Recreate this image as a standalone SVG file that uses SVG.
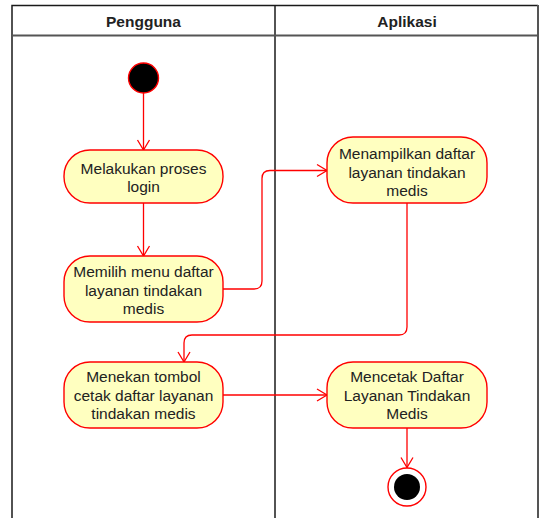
<svg xmlns="http://www.w3.org/2000/svg" width="542" height="518" viewBox="0 0 542 518">
  <style>
    .lane { fill: none; stroke: #1a1a1a; stroke-width: 1.5; }
    .sep { fill: none; stroke: #555; stroke-width: 2; }
    .head { font-family: "Liberation Sans", Arial, sans-serif; font-size: 15.5px; font-weight: bold; fill: #222; text-anchor: middle; }
    .act rect { fill: #ffffc0; stroke: #ff0000; stroke-width: 1.4; }
    .act text { font-family: "Liberation Sans", Arial, sans-serif; font-size: 15.5px; fill: #222; text-anchor: middle; }
    .edge { fill: none; stroke: #ff0000; stroke-width: 1.3; marker-end: url(#open); }
  </style>
  <defs>
    <marker id="open" markerUnits="userSpaceOnUse" markerWidth="16" markerHeight="16" viewBox="-12 -8 14 16" refX="0" refY="0" orient="auto" overflow="visible">
      <path d="M-10,-6 L0,0 L-10,6" fill="none" stroke="#ff0000" stroke-width="1.3"/>
    </marker>
  </defs>

  <rect x="0" y="0" width="542" height="518" fill="#ffffff"/>

  <!-- swimlanes -->
  <g id="lanes">
    <path class="lane" d="M12,518 V5.5 H538"/>
    <path class="sep" d="M538,5 V518"/>
    <path class="lane" d="M275,5.5 V518"/>
    <path class="sep" d="M12,35.5 H538"/>
    <text class="head" x="143.5" y="27">Pengguna</text>
    <text class="head" x="407" y="27">Aplikasi</text>
  </g>

  <!-- connectors -->
  <g id="connectors">
    <path class="edge" d="M143.5,93 V150"/>
    <path class="edge" d="M143.5,203 V256"/>
    <path class="edge" d="M223,289 H254 Q262,289 262,281 V178.5 Q262,170.5 270,170.5 H327"/>
    <path class="edge" d="M407,203 V327 Q407,335 399,335 H192 Q184,335 184,343 V362"/>
    <path class="edge" d="M223,395 H327"/>
    <path class="edge" d="M407,428 V467.5"/>
  </g>

  <g id="start">
    <circle cx="143.5" cy="78" r="15" fill="#000" stroke="#ff0000" stroke-width="1.4"/>
  </g>

  <g id="login" class="act">
    <rect x="64" y="150" width="159" height="53" rx="26" ry="26"/>
    <text x="143.5" y="173.5">Melakukan proses</text>
    <text x="143.5" y="192">login</text>
  </g>

  <g id="pilih-menu" class="act">
    <rect x="64" y="256" width="159" height="66" rx="26" ry="26"/>
    <text x="143.5" y="277">Memilih menu daftar</text>
    <text x="143.5" y="295.5">layanan tindakan</text>
    <text x="143.5" y="314">medis</text>
  </g>

  <g id="tombol-cetak" class="act">
    <rect x="64" y="362" width="159" height="66" rx="26" ry="26"/>
    <text x="143.5" y="382">Menekan tombol</text>
    <text x="143.5" y="400.5">cetak daftar layanan</text>
    <text x="143.5" y="419">tindakan medis</text>
  </g>

  <g id="tampil-daftar" class="act">
    <rect x="327" y="137" width="160" height="66" rx="26" ry="26"/>
    <text x="407" y="159">Menampilkan daftar</text>
    <text x="407" y="177.5">layanan tindakan</text>
    <text x="407" y="196">medis</text>
  </g>

  <g id="cetak-daftar" class="act">
    <rect x="327" y="362" width="160" height="66" rx="26" ry="26"/>
    <text x="407" y="382">Mencetak Daftar</text>
    <text x="407" y="400.5">Layanan Tindakan</text>
    <text x="407" y="419">Medis</text>
  </g>

  <g id="end">
    <circle cx="407" cy="487" r="19" fill="#ffffff" stroke="#ff0000" stroke-width="1.4"/>
    <circle cx="407" cy="487" r="13" fill="#000"/>
  </g>
</svg>
